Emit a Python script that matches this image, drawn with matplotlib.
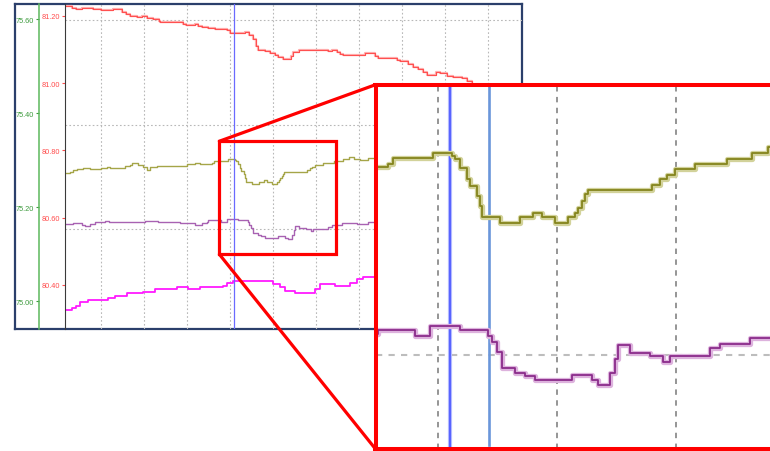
import matplotlib
matplotlib.use('Agg')
import matplotlib.pyplot as plt
from matplotlib.patches import Rectangle, ConnectionPatch

plt.rcParams['font.family'] = 'Liberation Sans'

# (time s, value) pairs on the 80.xx scale, held until the next sample
red_pts = [(1.7, 81.228), (3.33, 81.224), (4.26, 81.220), (5.65, 81.223), (8.28, 81.220),
           (10.0, 81.216), (12.93, 81.219), (14.88, 81.210), (15.88, 81.204), (16.81, 81.200),
           (18.51, 81.197), (19.53, 81.200), (20.84, 81.194), (22.23, 81.190), (23.63, 81.185),
           (23.79, 81.180), (29.21, 81.175), (29.84, 81.172), (31.93, 81.175), (32.7, 81.170),
           (33.49, 81.166), (35.02, 81.163), (36.58, 81.160), (39.3, 81.157), (40.07, 81.148),
           (43.56, 81.151), (44.5, 81.143), (45.42, 81.131), (46.05, 81.111), (46.58, 81.098),
           (48.2, 81.094), (49.37, 81.088), (50.53, 81.083), (51.23, 81.078), (52.4, 81.071),
           (54.19, 81.081), (54.79, 81.091), (56.12, 81.098), (62.86, 81.095), (63.79, 81.098),
           (64.88, 81.091), (65.65, 81.086), (66.42, 81.083), (71.47, 81.088), (73.79, 81.081),
           (74.56, 81.075), (78.84, 81.068), (79.6, 81.064), (81.47, 81.056), (82.63, 81.048),
           (83.79, 81.042), (84.95, 81.032), (85.88, 81.025), (87.98, 81.034), (88.9, 81.029),
           (90.53, 81.022), (91.93, 81.018), (94.02, 81.014), (95.19, 81.006), (96.35, 80.994),
           (97.5, 80.975), (108.0, 80.960)]

olive_pts = [(1.7, 80.733), (2.86, 80.736), (3.56, 80.741), (4.49, 80.744), (5.88, 80.747),
             (7.51, 80.744), (10.0, 80.747), (11.47, 80.751), (12.16, 80.747), (15.65, 80.752),
             (16.81, 80.757), (17.28, 80.762), (18.67, 80.756), (19.84, 80.749), (20.77, 80.742),
             (21.47, 80.749), (23.09, 80.754), (30.07, 80.759), (31.93, 80.762), (33.09, 80.759),
             (35.83, 80.762), (36.25, 80.768), (39.6, 80.773), (41.2, 80.770), (41.45, 80.767),
             (41.87, 80.758), (42.43, 80.746), (42.71, 80.739), (43.27, 80.729), (43.55, 80.719),
             (43.72, 80.707), (45.23, 80.701), (46.91, 80.707), (48.0, 80.712), (48.76, 80.707),
             (49.85, 80.701), (50.94, 80.707), (51.53, 80.712), (51.8, 80.717), (52.09, 80.724),
             (52.37, 80.731), (52.62, 80.735), (58.0, 80.740), (58.67, 80.746), (59.25, 80.750),
             (59.93, 80.757), (61.6, 80.762), (64.29, 80.767), (66.39, 80.773), (67.73, 80.779),
             (69.0, 80.774), (70.3, 80.771), (72.16, 80.776), (108.0, 80.776)]

purple_pts = [(1.7, 80.581), (3.56, 80.584), (5.65, 80.579), (6.35, 80.576), (7.51, 80.581),
              (8.67, 80.586), (11.0, 80.591), (11.93, 80.586), (20.3, 80.591), (23.33, 80.586),
              (26.58, 80.588), (28.44, 80.584), (31.93, 80.578), (33.56, 80.584), (34.72, 80.588),
              (34.99, 80.592), (38.09, 80.586), (39.35, 80.596), (41.87, 80.592), (44.22, 80.586),
              (44.53, 80.579), (44.95, 80.569), (45.37, 80.553), (46.49, 80.548), (47.33, 80.545),
              (48.17, 80.540), (51.28, 80.546), (52.96, 80.540), (53.46, 80.535), (54.47, 80.548),
              (54.89, 80.562), (55.14, 80.576), (56.15, 80.568), (57.83, 80.565), (58.92, 80.559),
              (59.5, 80.565), (62.86, 80.573), (63.7, 80.577), (66.22, 80.583), (69.6, 80.581),
              (72.16, 80.586), (108.0, 80.586)]

magenta_pts = [(1.7, 80.326), (3.33, 80.330), (4.26, 80.338), (5.19, 80.348), (7.05, 80.355),
               (11.7, 80.361), (13.33, 80.367), (16.12, 80.375), (19.84, 80.380), (22.63, 80.387),
               (27.74, 80.393), (30.3, 80.388), (33.09, 80.393), (38.44, 80.398), (39.37, 80.406),
               (40.77, 80.413), (50.07, 80.403), (51.7, 80.393), (52.86, 80.381), (55.19, 80.375),
               (59.84, 80.388), (61.0, 80.403), (64.49, 80.398), (67.98, 80.406), (69.6, 80.418),
               (71.0, 80.424), (108.0, 80.424)]

red_ticks = [80.40, 80.60, 80.80, 81.00, 81.20]
green_ticks = [75.00, 75.20, 75.40, 75.60]
time_grid = [10, 20, 30, 40, 50, 60, 70, 80, 90, 100]
level_grid = [80.566, 80.876, 81.188]
cursor_t = 41.0
marker_t = 44.3
zoom_t = (37.6, 64.8)
zoom_v = (80.491, 80.827)

W, H = 770, 452


def box(x0, y0, x1, y1):
    # pixel box (top-left origin) -> figure fraction rect
    return [x0 / W, 1 - y1 / H, (x1 - x0) / W, (y1 - y0) / H]


def unzip(pts):
    return [p[0] for p in pts], [p[1] for p in pts]


fig = plt.figure(figsize=(W / 100, H / 100), dpi=100)

# outer navy frame around both scales and the plot
frame = fig.add_axes(box(15, 5, 522, 330))
frame.set_xticks([])
frame.set_yticks([])
for s in frame.spines.values():
    s.set_color('#2B3F6B')
    s.set_linewidth(1.6)

ax = fig.add_axes(box(65, 5.3, 522, 330))
ax.patch.set_alpha(0)
ax.set_xlim(1.7, 108.0)
ax.set_ylim(80.2689, 81.2339)
for side in ['top', 'right', 'bottom']:
    ax.spines[side].set_visible(False)
ax.spines['left'].set_color('#3A3A3A')
ax.spines['left'].set_linewidth(0.8)
ax.set_xticks(time_grid)
ax.tick_params(axis='x', length=0, labelbottom=False)
ax.grid(axis='x', color='#B8B8B8', lw=0.8, ls=(0, (1.5, 2)))
for lv in level_grid:
    ax.axhline(lv, color='#B8B8B8', lw=0.8, ls=(0, (1.5, 2)))
ax.set_yticks(red_ticks)
ax.set_yticklabels(['%.2f' % v for v in red_ticks])
ax.tick_params(axis='y', colors='#FF4C4C', labelsize=5.3, length=2.2, width=0.8, pad=1.4)

# left-most scale
axg = ax.twinx()
axg.set_ylim(74.9411, 75.6319)
axg.yaxis.tick_left()
axg.spines['left'].set_position(('outward', 26 * 0.72))
axg.spines['left'].set_color('#5DB85D')
axg.spines['left'].set_linewidth(1.1)
for side in ['top', 'right', 'bottom']:
    axg.spines[side].set_visible(False)
axg.set_yticks(green_ticks)
axg.set_yticklabels(['%.2f' % v for v in green_ticks])
axg.tick_params(axis='y', colors='#3C9A3C', labelsize=5.3, length=2.2, width=0.8, pad=1.4)

t, v = unzip(red_pts)
ax.plot(t, v, drawstyle='steps-post', color='#FFB0B0', lw=1.6)
ax.plot(t, v, drawstyle='steps-post', color='#FF5050', lw=0.8)
t, v = unzip(olive_pts)
ax.plot(t, v, drawstyle='steps-post', color='#A5A548', lw=1.0)
t, v = unzip(purple_pts)
ax.plot(t, v, drawstyle='steps-post', color='#A862B2', lw=1.0)
t, v = unzip(magenta_pts)
ax.plot(t, v, drawstyle='steps-post', color='#FF1AFF', lw=1.3)
ax.axvline(cursor_t, color='#6A6AFF', lw=0.9)

ax.add_patch(Rectangle((zoom_t[0], zoom_v[0]), zoom_t[1] - zoom_t[0], zoom_v[1] - zoom_v[0],
                       fill=False, ec='#FF0000', lw=2.3, zorder=6))

# magnified view
axin = fig.add_axes(box(375.5, 85.7, 772, 450))
axin.set_zorder(10)
axin.set_facecolor('white')
axin.set_xlim(34.78, 68.07)
axin.set_ylim(80.4697, 80.843)
axin.set_xticks([])
axin.set_yticks([])
for s in axin.spines.values():
    s.set_color('#FF0000')
    s.set_linewidth(2.9)
for tg in time_grid:
    axin.axvline(tg, color='#8C8C8C', lw=1.3, ls=(0, (3, 3)))
for lv in level_grid:
    axin.axhline(lv, color='#BDBDBD', lw=1.5, ls=(0, (3, 3)))
axin.axvline(cursor_t, color='#B4BAFF', lw=3.0)
axin.axvline(cursor_t, color='#4F5BFF', lw=1.3)
axin.axvline(marker_t, ymin=0.01, color='#6A96DA', lw=1.9)
t, v = unzip(olive_pts)
axin.plot(t, v, drawstyle='steps-post', color='#D2D29A', lw=3.8)
axin.plot(t, v, drawstyle='steps-post', color='#84841C', lw=1.3)
t, v = unzip(purple_pts)
axin.plot(t, v, drawstyle='steps-post', color='#DDB2DD', lw=3.8)
axin.plot(t, v, drawstyle='steps-post', color='#8A2B8A', lw=1.3)

# lines tying the zoom box to the magnified view
for yv, corner in [(zoom_v[1], (0, 1)), (zoom_v[0], (0, 0))]:
    con = ConnectionPatch(xyA=(zoom_t[0], yv), coordsA=ax.transData,
                          xyB=corner, coordsB=axin.transAxes,
                          color='#FF0000', lw=2.3, zorder=20)
    fig.add_artist(con)

fig.savefig('out.png', dpi=100)
